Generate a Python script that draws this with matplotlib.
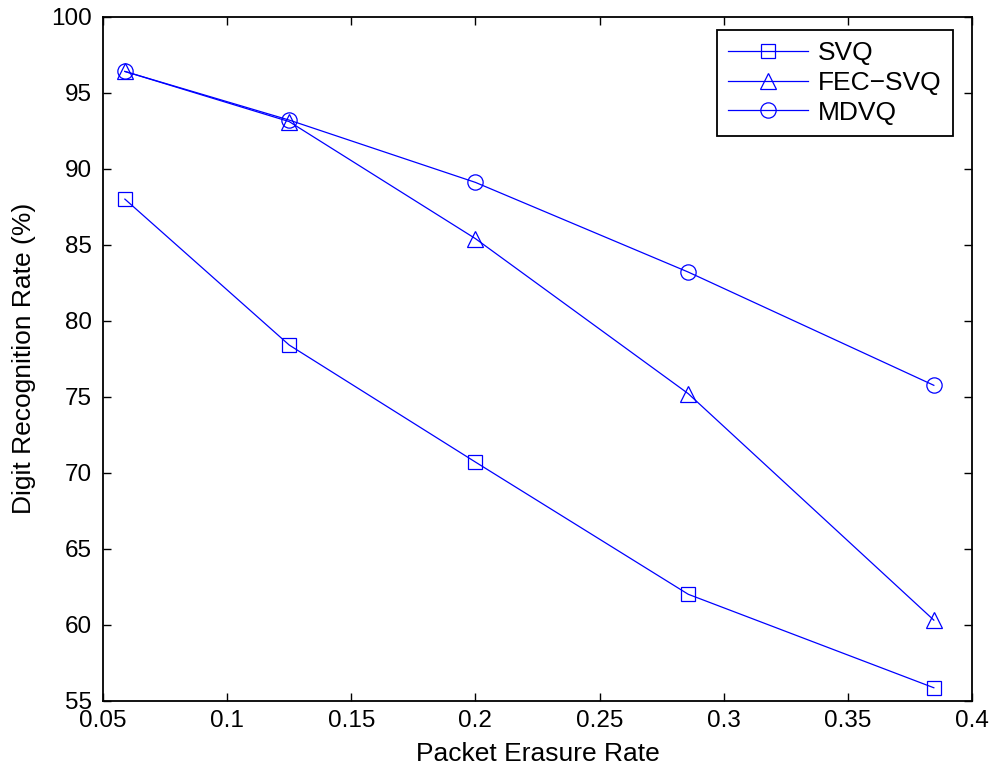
import numpy as np
import matplotlib.pyplot as plt

# packet erasure rates and recognition rates (%)
erasure = [1/17, 1/8, 1/5, 2/7, 5/13]
svq = [88.0, 78.4, 70.7, 62.0, 55.85]
fec_svq = [96.4, 93.1, 85.4, 75.2, 60.3]
mdvq = [96.4, 93.2, 89.1, 83.2, 75.75]

xticks = [0.05, 0.1, 0.15, 0.2, 0.25, 0.3, 0.35, 0.4]
xticklabels = ['0.05', '0.1', '0.15', '0.2', '0.25', '0.3', '0.35', '0.4']
yticks = [55, 60, 65, 70, 75, 80, 85, 90, 95, 100]

plt.rcParams['font.family'] = ['Liberation Sans', 'DejaVu Sans']
fs = 17.5

fig = plt.figure(figsize=(9.94, 7.71), dpi=100)
ax = fig.add_axes([0.1036, 0.0912, 0.8743, 0.8871])

ax.plot(erasure, svq, color='blue', lw=0.9, marker='s', ms=9.5,
        mfc='none', mec='blue', mew=0.9, label='SVQ')
ax.plot(erasure, fec_svq, color='blue', lw=0.9, marker='^', ms=12,
        mfc='none', mec='blue', mew=0.9, label='FEC\u2212SVQ')
ax.plot(erasure, mdvq, color='blue', lw=0.9, marker='o', ms=11,
        mfc='none', mec='blue', mew=0.9, label='MDVQ')

ax.set_xlim(0.05, 0.4)
ax.set_ylim(55, 100)
ax.set_xticks(xticks)
ax.set_xticklabels(xticklabels)
ax.set_yticks(yticks)
ax.tick_params(direction='in', length=6, width=1, labelsize=fs,
               top=True, right=True)
ax.tick_params(axis='y', pad=8)
ax.tick_params(axis='x', pad=7)
for s in ax.spines.values():
    s.set_linewidth(1.3)

ax.set_xlabel('Packet Erasure Rate', fontsize=19, labelpad=7)
ax.set_ylabel('Digit Recognition Rate (%)', fontsize=19, labelpad=11)

leg = ax.legend(loc='upper right', bbox_to_anchor=(0.978, 0.9806),
                fontsize=19, handlelength=3.05, fancybox=False,
                framealpha=1, edgecolor='black', borderaxespad=0,
                labelspacing=0.22, handletextpad=0.38, borderpad=0.42)
leg.get_frame().set_linewidth(1.3)

fig.savefig('out.png', dpi=100)
